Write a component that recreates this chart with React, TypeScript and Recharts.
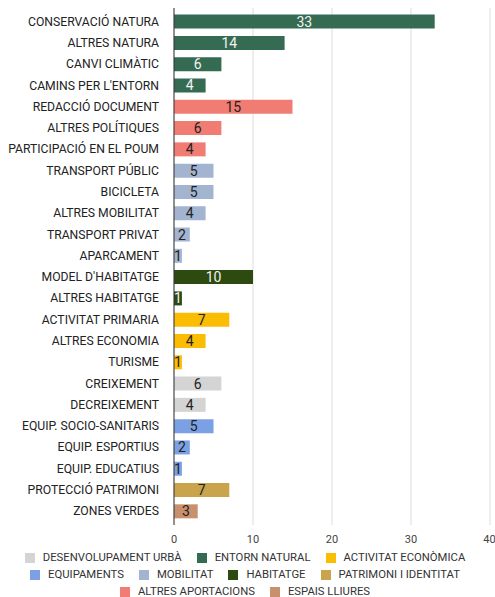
import React from "react";
import { BarChart, Bar, XAxis, YAxis, CartesianGrid, Legend, Cell, LabelList } from "recharts";

const categories = [
  "CONSERVACIÓ NATURA",
  "ALTRES NATURA",
  "CANVI CLIMÀTIC",
  "CAMINS PER L'ENTORN",
  "REDACCIÓ DOCUMENT",
  "ALTRES POLÍTIQUES",
  "PARTICIPACIÓ EN EL POUM",
  "TRANSPORT PÚBLIC",
  "BICICLETA",
  "ALTRES MOBILITAT",
  "TRANSPORT PRIVAT",
  "APARCAMENT",
  "MODEL D'HABITATGE",
  "ALTRES HABITATGE",
  "ACTIVITAT PRIMARIA",
  "ALTRES ECONOMIA",
  "TURISME",
  "CREIXEMENT",
  "DECREIXEMENT",
  "EQUIP. SOCIO-SANITARIS",
  "EQUIP. ESPORTIUS",
  "EQUIP. EDUCATIUS",
  "PROTECCIÓ PATRIMONI",
  "ZONES VERDES",
];

const values = [33, 14, 6, 4, 15, 6, 4, 5, 5, 4, 2, 1, 10, 1, 7, 4, 1, 6, 4, 5, 2, 1, 7, 3];

// group index for each category (see groupNames)
const groupOf = [1, 1, 1, 1, 7, 7, 7, 4, 4, 4, 4, 4, 5, 5, 2, 2, 2, 0, 0, 3, 3, 3, 6, 8];

const groupNames = [
  "DESENVOLUPAMENT URBÀ",
  "ENTORN NATURAL",
  "ACTIVITAT ECONÒMICA",
  "EQUIPAMENTS",
  "MOBILITAT",
  "HABITATGE",
  "PATRIMONI I IDENTITAT",
  "ALTRES APORTACIONS",
  "ESPAIS LLIURES",
];

const groupColors = [
  "#d4d4d4",
  "#356b52",
  "#fbbc04",
  "#7ba0e4",
  "#a3b4d0",
  "#2d4a10",
  "#c9a44c",
  "#f17c73",
  "#c8906c",
];

const xTicks = [0, 10, 20, 30, 40];

const data = categories.map((name, i) => ({ name, value: values[i], group: groupOf[i] }));

const darkGroups = [1, 5];

const renderValueLabel = (props: any) => {
  const { x, y, width, height, value, index } = props;
  const g = data[index].group;
  const fill = darkGroups.includes(g) ? "#f2f2f2" : "#222";
  return (
    <text
      x={Number(x) + Number(width) / 2}
      y={Number(y) + Number(height) / 2}
      dy={5}
      textAnchor="middle"
      fontSize={14}
      fill={fill}
    >
      {value}
    </text>
  );
};

const CategoryTick = (props: any) => {
  const { x, y, payload } = props;
  return (
    <text x={x - 7} y={y} dy={4} textAnchor="end" fontSize={12.2} fill="#222">
      {payload.value}
    </text>
  );
};

const CustomLegend = () => (
  <div
    style={{
      width: 475,
      margin: "0 auto",
      paddingTop: 5,
      display: "flex",
      flexWrap: "wrap",
      justifyContent: "center",
      columnGap: 15,
      rowGap: 4,
      fontSize: 11.3,
      color: "#333",
      lineHeight: "13px",
    }}
  >
    {groupNames.map((name, i) => (
      <div key={name} style={{ display: "flex", alignItems: "center" }}>
        <span
          style={{
            width: 10,
            height: 10,
            backgroundColor: groupColors[i],
            marginRight: 8,
            display: "inline-block",
          }}
        />
        <span>{name}</span>
      </div>
    ))}
  </div>
);

export default function App() {
  return (
    <div style={{ position: "absolute", left: 0, top: 0, fontFamily: "Roboto, sans-serif" }}>
      <BarChart
        width={495}
        height={597}
        data={data}
        layout="vertical"
        margin={{ top: 8, right: 5, left: 0, bottom: 0 }}
        barCategoryGap="17%"
      >
        <CartesianGrid horizontal={false} stroke="#dddddd" />
        <XAxis
          type="number"
          domain={[0, 40]}
          ticks={xTicks}
          axisLine={false}
          tickLine={false}
          tick={{ fill: "#444", fontSize: 11 }}
          tickMargin={4}
          height={21}
        />
        <YAxis
          type="category"
          dataKey="name"
          width={174}
          axisLine={{ stroke: "#333" }}
          tickLine={false}
          tick={<CategoryTick />}
          interval={0}
          padding={{ top: 3, bottom: 3 }}
        />
        <Legend verticalAlign="bottom" height={51} content={<CustomLegend />} />
        <Bar dataKey="value" isAnimationActive={false}>
          {data.map((d, i) => (
            <Cell key={`cell-${i}`} fill={groupColors[d.group]} />
          ))}
          <LabelList dataKey="value" content={renderValueLabel} />
        </Bar>
      </BarChart>
    </div>
  );
}
